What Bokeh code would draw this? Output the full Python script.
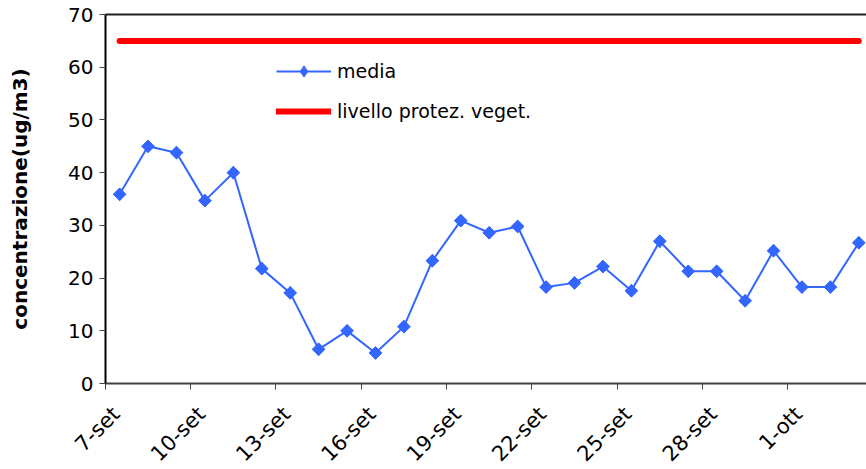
import numpy as np
from bokeh.plotting import figure
from bokeh.models import Range1d, FixedTicker, LinearAxis, Legend, LegendItem
from bokeh.embed import file_html
from bokeh.resources import INLINE

giorni = ["7-set", "8-set", "9-set", "10-set", "11-set", "12-set", "13-set", "14-set",
          "15-set", "16-set", "17-set", "18-set", "19-set", "20-set", "21-set", "22-set",
          "23-set", "24-set", "25-set", "26-set", "27-set", "28-set", "29-set", "30-set",
          "1-ott", "2-ott", "3-ott"]
media = [35.9, 45.0, 43.8, 34.7, 40.0, 21.8, 17.2, 6.5, 10.0, 5.8, 10.8, 23.3,
         30.9, 28.6, 29.8, 18.3, 19.1, 22.2, 17.6, 27.0, 21.3, 21.3, 15.7, 25.2,
         18.3, 18.3, 26.7]
livello = [65] * len(giorni)
y_ticks = [0, 10, 20, 30, 40, 50, 60, 70]

x = list(range(len(giorni)))
FONT = "DejaVu Sans"
BLUE = "#3366FF"

# the frame covers the whole canvas; the plot area is x in [-0.5, ...], y in [0, 70]
X_LEFT, X_START, X_END = -4.19, -0.5, 26.27
Y_BOTTOM, Y_START, Y_END, Y_TOP = -16.3, 0, 70, 72.66
p = figure(width=866, height=469, output_backend="svg", toolbar_location=None,
           x_range=Range1d(X_LEFT, X_END), y_range=Range1d(Y_BOTTOM, Y_TOP),
           min_border_left=0, min_border_right=0, min_border_top=0, min_border_bottom=0,
           x_axis_type=None, y_axis_type=None)
p.outline_line_color = None
p.xgrid.visible = False
p.ygrid.visible = False
p.background_fill_color = "white"
p.border_fill_color = "white"

r_liv = p.line(x, livello, line_color="#FF0000", line_width=6, line_cap="round")
r_med_l = p.line(x, media, line_color=BLUE, line_width=2)
# diamond (used for the legend sample), covered by the rotated squares
r_leg_m = p.scatter(x, media, marker="diamond", size=12, fill_color=BLUE, line_color=BLUE)
r_med_m = p.scatter(x, media, marker="square", angle=np.pi / 4, size=9,
                    fill_color=BLUE, line_color=BLUE)

# x axis: tick marks between categories (as minor ticks, no labels)
tick_pos = [i - 0.5 for i in range(0, len(giorni), 3)]
xticks = LinearAxis(ticker=FixedTicker(ticks=[], minor_ticks=tick_pos),
                    fixed_location=Y_START, bounds=(X_START, X_END))
xticks.major_tick_out = 0
xticks.major_tick_in = 0
xticks.minor_tick_in = 0
xticks.minor_tick_out = 6
xticks.minor_tick_line_color = "#404040"
xticks.major_label_standoff = 0
xticks.axis_line_color = "#404040"
xticks.axis_line_width = 2
p.add_layout(xticks, "below")

# x axis: rotated date labels
lab_shift = 0.38
lab_pos = [t + lab_shift for t in tick_pos]
xlabels = LinearAxis(ticker=FixedTicker(ticks=lab_pos, minor_ticks=[]), fixed_location=Y_START,
                     major_label_overrides={t: giorni[int(round(t - lab_shift + 0.5))] for t in lab_pos})
xlabels.major_tick_out = 0
xlabels.major_tick_in = 0
xlabels.minor_tick_out = 0
xlabels.minor_tick_in = 0
xlabels.axis_line_color = None
xlabels.major_tick_line_color = None
xlabels.major_label_orientation = np.pi / 4
xlabels.major_label_text_font = FONT
xlabels.major_label_text_font_size = "21px"
xlabels.major_label_text_color = "black"
xlabels.major_label_standoff = 27
p.add_layout(xlabels, "below")

# y axis
yaxis = LinearAxis(ticker=FixedTicker(ticks=y_ticks, minor_ticks=[]),
                   fixed_location=X_START, bounds=(Y_START, Y_END))
yaxis.major_tick_in = 0
yaxis.minor_tick_out = 0
yaxis.minor_tick_in = 0
yaxis.major_label_text_font = FONT
yaxis.major_label_text_font_size = "20px"
yaxis.major_label_text_color = "black"
yaxis.major_label_standoff = 6
yaxis.axis_line_color = "black"
yaxis.axis_line_width = 2
yaxis.major_tick_line_color = "#404040"
yaxis.major_tick_out = 6
yaxis.axis_label = "concentrazione(ug/m3)"
yaxis.axis_label_text_font = FONT
yaxis.axis_label_text_font_size = "20px"
yaxis.axis_label_text_font_style = "bold"
yaxis.axis_label_text_color = "black"
yaxis.axis_label_standoff = 33
p.add_layout(yaxis, "left")

# top border line of the plot area
top = LinearAxis(ticker=FixedTicker(ticks=[], minor_ticks=[]),
                 fixed_location=Y_END, bounds=(X_START, X_END))
top.major_tick_out = 0
top.major_tick_in = 0
top.minor_tick_out = 0
top.minor_tick_in = 0
top.major_label_standoff = 0
top.axis_line_color = "#202020"
top.axis_line_width = 2
p.add_layout(top, "above")

legend = Legend(items=[LegendItem(label="media", renderers=[r_med_l, r_leg_m]),
                       LegendItem(label="livello protez. veget.", renderers=[r_liv])],
                location=(276, 344))
legend.border_line_color = None
legend.background_fill_alpha = 0
legend.padding = 0
legend.margin = 0
legend.spacing = 12
legend.glyph_width = 55
legend.glyph_height = 28
legend.label_height = 20
legend.label_standoff = 6
legend.label_text_font = FONT
legend.label_text_font_size = "19px"
legend.label_text_color = "black"
p.add_layout(legend, "center")

open("out.html", "w").write(file_html(p, INLINE))
